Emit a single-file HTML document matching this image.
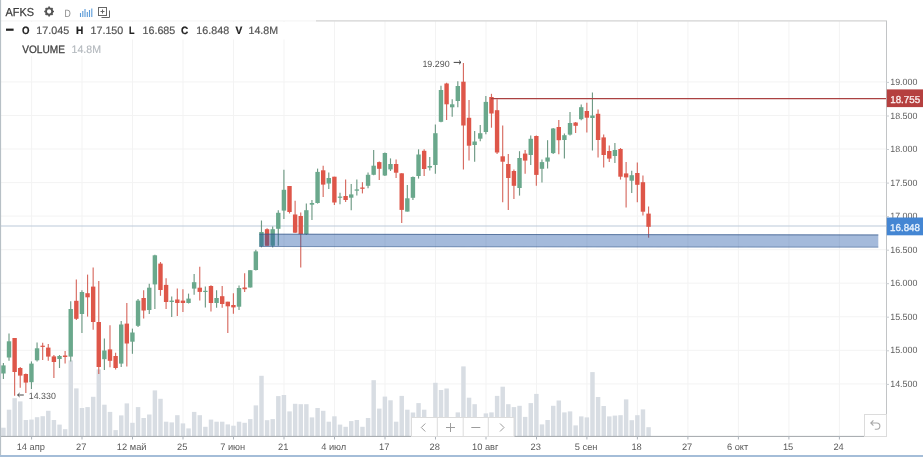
<!DOCTYPE html>
<html lang="ru"><head><meta charset="utf-8"><title>AFKS</title>
<style>html,body{margin:0;padding:0;background:#fff;}body{width:923px;height:457px;overflow:hidden;font-family:"Liberation Sans",sans-serif;}svg{display:block;font-family:"Liberation Sans",sans-serif;}</style></head><body>
<svg width="923" height="457" viewBox="0 0 923 457" text-rendering="geometricPrecision">
<rect width="923" height="457" fill="#fff"/>
<g stroke="#f3f3f3" stroke-width="1">
<line x1="31.6" y1="21" x2="31.6" y2="436"/>
<line x1="82.0" y1="21" x2="82.0" y2="436"/>
<line x1="132.5" y1="21" x2="132.5" y2="436"/>
<line x1="183.0" y1="21" x2="183.0" y2="436"/>
<line x1="233.5" y1="21" x2="233.5" y2="436"/>
<line x1="284.0" y1="21" x2="284.0" y2="436"/>
<line x1="334.5" y1="21" x2="334.5" y2="436"/>
<line x1="385.0" y1="21" x2="385.0" y2="436"/>
<line x1="435.5" y1="21" x2="435.5" y2="436"/>
<line x1="486.0" y1="21" x2="486.0" y2="436"/>
<line x1="536.5" y1="21" x2="536.5" y2="436"/>
<line x1="586.9" y1="21" x2="586.9" y2="436"/>
<line x1="637.4" y1="21" x2="637.4" y2="436"/>
<line x1="687.9" y1="21" x2="687.9" y2="436"/>
<line x1="738.4" y1="21" x2="738.4" y2="436"/>
<line x1="788.9" y1="21" x2="788.9" y2="436"/>
<line x1="839.4" y1="21" x2="839.4" y2="436"/>
<line x1="1" y1="81.9" x2="886" y2="81.9"/>
<line x1="1" y1="115.5" x2="886" y2="115.5"/>
<line x1="1" y1="149.0" x2="886" y2="149.0"/>
<line x1="1" y1="182.6" x2="886" y2="182.6"/>
<line x1="1" y1="216.1" x2="886" y2="216.1"/>
<line x1="1" y1="249.7" x2="886" y2="249.7"/>
<line x1="1" y1="283.2" x2="886" y2="283.2"/>
<line x1="1" y1="316.8" x2="886" y2="316.8"/>
<line x1="1" y1="350.3" x2="886" y2="350.3"/>
<line x1="1" y1="383.9" x2="886" y2="383.9"/>
</g>
<line x1="0" y1="20.9" x2="887" y2="20.9" stroke="#f3f3f3" stroke-width="1"/>
<line x1="316" y1="20.9" x2="887" y2="20.9" stroke="#d6d6d6" stroke-width="1.1"/>
<g fill="#d8dde3">
<rect x="1.20" y="427.7" width="4.45" height="8.7"/>
<rect x="6.81" y="409.7" width="4.45" height="26.7"/>
<rect x="12.42" y="398.2" width="4.45" height="38.2"/>
<rect x="18.03" y="401.4" width="4.45" height="35.0"/>
<rect x="23.64" y="420.0" width="4.45" height="16.4"/>
<rect x="29.25" y="419.6" width="4.45" height="16.8"/>
<rect x="34.86" y="417.2" width="4.45" height="19.2"/>
<rect x="40.47" y="416.2" width="4.45" height="20.2"/>
<rect x="46.08" y="410.8" width="4.45" height="25.6"/>
<rect x="51.69" y="420.0" width="4.45" height="16.4"/>
<rect x="57.30" y="424.6" width="4.45" height="11.8"/>
<rect x="62.91" y="429.2" width="4.45" height="7.2"/>
<rect x="68.52" y="360.4" width="4.45" height="76.0"/>
<rect x="74.13" y="388.4" width="4.45" height="48.0"/>
<rect x="79.74" y="408.0" width="4.45" height="28.4"/>
<rect x="85.35" y="407.1" width="4.45" height="29.3"/>
<rect x="90.96" y="396.8" width="4.45" height="39.6"/>
<rect x="96.57" y="369.4" width="4.45" height="67.0"/>
<rect x="102.18" y="404.7" width="4.45" height="31.7"/>
<rect x="107.79" y="411.9" width="4.45" height="24.5"/>
<rect x="113.40" y="430.1" width="4.45" height="6.3"/>
<rect x="119.01" y="415.4" width="4.45" height="21.0"/>
<rect x="124.62" y="403.4" width="4.45" height="33.0"/>
<rect x="130.23" y="422.8" width="4.45" height="13.6"/>
<rect x="135.84" y="407.1" width="4.45" height="29.3"/>
<rect x="141.45" y="418.0" width="4.45" height="18.4"/>
<rect x="147.06" y="414.5" width="4.45" height="21.9"/>
<rect x="152.67" y="390.4" width="4.45" height="46.0"/>
<rect x="158.28" y="398.8" width="4.45" height="37.6"/>
<rect x="163.89" y="421.7" width="4.45" height="14.7"/>
<rect x="169.50" y="422.4" width="4.45" height="14.0"/>
<rect x="175.11" y="415.2" width="4.45" height="21.2"/>
<rect x="180.72" y="423.4" width="4.45" height="13.0"/>
<rect x="186.33" y="428.4" width="4.45" height="8.0"/>
<rect x="191.94" y="411.9" width="4.45" height="24.5"/>
<rect x="197.55" y="415.2" width="4.45" height="21.2"/>
<rect x="203.16" y="426.8" width="4.45" height="9.6"/>
<rect x="208.77" y="419.6" width="4.45" height="16.8"/>
<rect x="214.38" y="421.7" width="4.45" height="14.7"/>
<rect x="219.99" y="421.7" width="4.45" height="14.7"/>
<rect x="225.60" y="424.4" width="4.45" height="12.0"/>
<rect x="231.21" y="425.7" width="4.45" height="10.7"/>
<rect x="236.82" y="421.7" width="4.45" height="14.7"/>
<rect x="242.43" y="422.8" width="4.45" height="13.6"/>
<rect x="248.04" y="419.1" width="4.45" height="17.3"/>
<rect x="253.65" y="405.4" width="4.45" height="31.0"/>
<rect x="259.26" y="375.8" width="4.45" height="60.6"/>
<rect x="264.87" y="420.2" width="4.45" height="16.2"/>
<rect x="270.48" y="419.1" width="4.45" height="17.3"/>
<rect x="276.09" y="396.1" width="4.45" height="40.3"/>
<rect x="281.70" y="395.0" width="4.45" height="41.4"/>
<rect x="287.31" y="411.4" width="4.45" height="25.0"/>
<rect x="292.92" y="403.8" width="4.45" height="32.6"/>
<rect x="298.53" y="404.2" width="4.45" height="32.2"/>
<rect x="304.14" y="404.2" width="4.45" height="32.2"/>
<rect x="309.75" y="417.4" width="4.45" height="19.0"/>
<rect x="315.36" y="408.0" width="4.45" height="28.4"/>
<rect x="320.97" y="410.8" width="4.45" height="25.6"/>
<rect x="326.58" y="421.7" width="4.45" height="14.7"/>
<rect x="332.19" y="416.3" width="4.45" height="20.1"/>
<rect x="337.80" y="424.6" width="4.45" height="11.8"/>
<rect x="343.41" y="426.8" width="4.45" height="9.6"/>
<rect x="349.02" y="421.1" width="4.45" height="15.3"/>
<rect x="354.63" y="420.0" width="4.45" height="16.4"/>
<rect x="360.24" y="426.8" width="4.45" height="9.6"/>
<rect x="365.85" y="418.0" width="4.45" height="18.4"/>
<rect x="371.46" y="380.2" width="4.45" height="56.2"/>
<rect x="377.07" y="408.6" width="4.45" height="27.8"/>
<rect x="382.68" y="396.6" width="4.45" height="39.8"/>
<rect x="388.29" y="400.3" width="4.45" height="36.1"/>
<rect x="393.90" y="421.7" width="4.45" height="14.7"/>
<rect x="399.51" y="395.9" width="4.45" height="40.5"/>
<rect x="405.12" y="409.7" width="4.45" height="26.7"/>
<rect x="410.73" y="412.5" width="4.45" height="23.9"/>
<rect x="416.34" y="403.1" width="4.45" height="33.3"/>
<rect x="421.95" y="409.7" width="4.45" height="26.7"/>
<rect x="427.56" y="421.4" width="4.45" height="15.0"/>
<rect x="433.17" y="382.8" width="4.45" height="53.6"/>
<rect x="438.78" y="390.0" width="4.45" height="46.4"/>
<rect x="444.39" y="388.5" width="4.45" height="47.9"/>
<rect x="450.00" y="421.4" width="4.45" height="15.0"/>
<rect x="455.61" y="412.4" width="4.45" height="24.0"/>
<rect x="461.22" y="366.4" width="4.45" height="70.0"/>
<rect x="466.83" y="397.7" width="4.45" height="38.7"/>
<rect x="472.44" y="404.2" width="4.45" height="32.2"/>
<rect x="478.05" y="421.4" width="4.45" height="15.0"/>
<rect x="483.66" y="413.4" width="4.45" height="23.0"/>
<rect x="489.27" y="412.4" width="4.45" height="24.0"/>
<rect x="494.88" y="395.9" width="4.45" height="40.5"/>
<rect x="500.49" y="386.7" width="4.45" height="49.7"/>
<rect x="506.10" y="404.2" width="4.45" height="32.2"/>
<rect x="511.71" y="407.1" width="4.45" height="29.3"/>
<rect x="517.32" y="405.8" width="4.45" height="30.6"/>
<rect x="522.93" y="416.9" width="4.45" height="19.5"/>
<rect x="528.54" y="403.1" width="4.45" height="33.3"/>
<rect x="534.15" y="393.9" width="4.45" height="42.5"/>
<rect x="539.76" y="424.4" width="4.45" height="12.0"/>
<rect x="545.37" y="420.0" width="4.45" height="16.4"/>
<rect x="550.98" y="405.8" width="4.45" height="30.6"/>
<rect x="556.59" y="400.5" width="4.45" height="35.9"/>
<rect x="562.20" y="412.4" width="4.45" height="24.0"/>
<rect x="567.81" y="411.4" width="4.45" height="25.0"/>
<rect x="573.42" y="425.4" width="4.45" height="11.0"/>
<rect x="579.03" y="416.4" width="4.45" height="20.0"/>
<rect x="584.64" y="417.4" width="4.45" height="19.0"/>
<rect x="590.25" y="372.1" width="4.45" height="64.3"/>
<rect x="595.86" y="397.0" width="4.45" height="39.4"/>
<rect x="601.47" y="406.0" width="4.45" height="30.4"/>
<rect x="607.08" y="416.4" width="4.45" height="20.0"/>
<rect x="612.69" y="415.6" width="4.45" height="20.8"/>
<rect x="618.30" y="415.2" width="4.45" height="21.2"/>
<rect x="623.91" y="399.4" width="4.45" height="37.0"/>
<rect x="629.52" y="420.2" width="4.45" height="16.2"/>
<rect x="635.13" y="415.2" width="4.45" height="21.2"/>
<rect x="640.74" y="409.4" width="4.45" height="27.0"/>
<rect x="646.35" y="427.2" width="4.45" height="9.2"/>
</g>
<line x1="0" y1="226" x2="886" y2="226" stroke="#bccada" stroke-width="1.15"/>
<line x1="3.40" y1="363.0" x2="3.40" y2="379.0" stroke="#5f8f78" stroke-width="1.15" stroke-opacity="0.9"/>
<rect x="1.20" y="365.4" width="4.4" height="8.1" fill="#6aa88c"/>
<line x1="9.01" y1="333.6" x2="9.01" y2="360.8" stroke="#5f8f78" stroke-width="1.15" stroke-opacity="0.9"/>
<rect x="6.81" y="341.3" width="4.4" height="16.2" fill="#6aa88c"/>
<line x1="14.62" y1="338.0" x2="14.62" y2="395.8" stroke="#d2574b" stroke-width="1.15" stroke-opacity="0.88"/>
<rect x="12.42" y="338.0" width="4.4" height="34.0" fill="#de5649"/>
<line x1="20.23" y1="367.0" x2="20.23" y2="387.7" stroke="#d2574b" stroke-width="1.15" stroke-opacity="0.88"/>
<rect x="18.03" y="368.0" width="4.4" height="7.6" fill="#de5649"/>
<line x1="25.84" y1="373.5" x2="25.84" y2="393.0" stroke="#d2574b" stroke-width="1.15" stroke-opacity="0.88"/>
<rect x="23.64" y="374.0" width="4.4" height="8.6" fill="#de5649"/>
<line x1="31.45" y1="361.4" x2="31.45" y2="389.0" stroke="#5f8f78" stroke-width="1.15" stroke-opacity="0.9"/>
<rect x="29.25" y="363.6" width="4.4" height="18.6" fill="#6aa88c"/>
<line x1="37.06" y1="342.4" x2="37.06" y2="361.4" stroke="#5f8f78" stroke-width="1.15" stroke-opacity="0.9"/>
<rect x="34.86" y="348.3" width="4.4" height="12.0" fill="#6aa88c"/>
<line x1="42.67" y1="342.8" x2="42.67" y2="360.0" stroke="#d2574b" stroke-width="1.15" stroke-opacity="0.88"/>
<rect x="40.47" y="345.7" width="4.4" height="1.2" fill="#de5649"/>
<line x1="48.28" y1="344.0" x2="48.28" y2="360.8" stroke="#d2574b" stroke-width="1.15" stroke-opacity="0.88"/>
<rect x="46.08" y="347.6" width="4.4" height="9.0" fill="#de5649"/>
<line x1="53.89" y1="355.0" x2="53.89" y2="378.0" stroke="#d2574b" stroke-width="1.15" stroke-opacity="0.88"/>
<rect x="51.69" y="356.4" width="4.4" height="5.6" fill="#de5649"/>
<line x1="59.50" y1="355.0" x2="59.50" y2="368.0" stroke="#5f8f78" stroke-width="1.15" stroke-opacity="0.9"/>
<rect x="57.30" y="356.0" width="4.4" height="3.0" fill="#6aa88c"/>
<line x1="65.11" y1="351.0" x2="65.11" y2="363.6" stroke="#d2574b" stroke-width="1.15" stroke-opacity="0.88"/>
<rect x="62.91" y="355.5" width="4.4" height="1.5" fill="#de5649"/>
<line x1="70.72" y1="301.3" x2="70.72" y2="361.4" stroke="#5f8f78" stroke-width="1.15" stroke-opacity="0.9"/>
<rect x="68.52" y="309.0" width="4.4" height="47.6" fill="#6aa88c"/>
<line x1="76.33" y1="279.4" x2="76.33" y2="320.0" stroke="#d2574b" stroke-width="1.15" stroke-opacity="0.88"/>
<rect x="74.13" y="300.8" width="4.4" height="18.0" fill="#de5649"/>
<line x1="81.94" y1="290.3" x2="81.94" y2="333.0" stroke="#5f8f78" stroke-width="1.15" stroke-opacity="0.9"/>
<rect x="79.74" y="292.0" width="4.4" height="22.0" fill="#6aa88c"/>
<line x1="87.55" y1="274.6" x2="87.55" y2="316.6" stroke="#d2574b" stroke-width="1.15" stroke-opacity="0.88"/>
<rect x="85.35" y="293.2" width="4.4" height="4.1" fill="#de5649"/>
<line x1="93.16" y1="267.4" x2="93.16" y2="329.7" stroke="#d2574b" stroke-width="1.15" stroke-opacity="0.88"/>
<rect x="90.96" y="286.6" width="4.4" height="35.4" fill="#de5649"/>
<line x1="98.77" y1="281.0" x2="98.77" y2="374.0" stroke="#d2574b" stroke-width="1.15" stroke-opacity="0.88"/>
<rect x="96.57" y="322.0" width="4.4" height="45.0" fill="#de5649"/>
<line x1="104.38" y1="338.5" x2="104.38" y2="370.0" stroke="#5f8f78" stroke-width="1.15" stroke-opacity="0.9"/>
<rect x="102.18" y="350.5" width="4.4" height="8.7" fill="#6aa88c"/>
<line x1="109.99" y1="325.3" x2="109.99" y2="367.3" stroke="#d2574b" stroke-width="1.15" stroke-opacity="0.88"/>
<rect x="107.79" y="349.4" width="4.4" height="11.4" fill="#de5649"/>
<line x1="115.60" y1="352.7" x2="115.60" y2="369.5" stroke="#d2574b" stroke-width="1.15" stroke-opacity="0.88"/>
<rect x="113.40" y="356.0" width="4.4" height="12.0" fill="#de5649"/>
<line x1="121.21" y1="321.0" x2="121.21" y2="367.0" stroke="#5f8f78" stroke-width="1.15" stroke-opacity="0.9"/>
<rect x="119.01" y="324.5" width="4.4" height="39.1" fill="#6aa88c"/>
<line x1="126.82" y1="303.0" x2="126.82" y2="366.5" stroke="#d2574b" stroke-width="1.15" stroke-opacity="0.88"/>
<rect x="124.62" y="323.6" width="4.4" height="19.9" fill="#de5649"/>
<line x1="132.43" y1="328.6" x2="132.43" y2="353.8" stroke="#5f8f78" stroke-width="1.15" stroke-opacity="0.9"/>
<rect x="130.23" y="332.5" width="4.4" height="9.2" fill="#6aa88c"/>
<line x1="138.04" y1="299.0" x2="138.04" y2="327.0" stroke="#5f8f78" stroke-width="1.15" stroke-opacity="0.9"/>
<rect x="135.84" y="300.6" width="4.4" height="25.2" fill="#6aa88c"/>
<line x1="143.65" y1="290.3" x2="143.65" y2="318.5" stroke="#d2574b" stroke-width="1.15" stroke-opacity="0.88"/>
<rect x="141.45" y="298.0" width="4.4" height="12.5" fill="#de5649"/>
<line x1="149.26" y1="283.8" x2="149.26" y2="314.0" stroke="#5f8f78" stroke-width="1.15" stroke-opacity="0.9"/>
<rect x="147.06" y="287.7" width="4.4" height="22.3" fill="#6aa88c"/>
<line x1="154.87" y1="254.7" x2="154.87" y2="309.0" stroke="#5f8f78" stroke-width="1.15" stroke-opacity="0.9"/>
<rect x="152.67" y="255.3" width="4.4" height="29.1" fill="#6aa88c"/>
<line x1="160.48" y1="262.0" x2="160.48" y2="295.8" stroke="#d2574b" stroke-width="1.15" stroke-opacity="0.88"/>
<rect x="158.28" y="263.6" width="4.4" height="26.4" fill="#de5649"/>
<line x1="166.09" y1="278.3" x2="166.09" y2="309.0" stroke="#d2574b" stroke-width="1.15" stroke-opacity="0.88"/>
<rect x="163.89" y="284.9" width="4.4" height="17.1" fill="#de5649"/>
<line x1="171.70" y1="296.5" x2="171.70" y2="317.0" stroke="#5f8f78" stroke-width="1.15" stroke-opacity="0.9"/>
<rect x="169.50" y="300.6" width="4.4" height="1.4" fill="#6aa88c"/>
<line x1="177.31" y1="288.6" x2="177.31" y2="316.0" stroke="#d2574b" stroke-width="1.15" stroke-opacity="0.88"/>
<rect x="175.11" y="299.5" width="4.4" height="3.5" fill="#de5649"/>
<line x1="182.92" y1="289.2" x2="182.92" y2="312.0" stroke="#d2574b" stroke-width="1.15" stroke-opacity="0.88"/>
<rect x="180.72" y="300.6" width="4.4" height="2.4" fill="#de5649"/>
<line x1="188.53" y1="293.6" x2="188.53" y2="303.5" stroke="#5f8f78" stroke-width="1.15" stroke-opacity="0.9"/>
<rect x="186.33" y="298.6" width="4.4" height="4.4" fill="#6aa88c"/>
<line x1="194.14" y1="274.0" x2="194.14" y2="294.7" stroke="#5f8f78" stroke-width="1.15" stroke-opacity="0.9"/>
<rect x="191.94" y="282.2" width="4.4" height="6.4" fill="#6aa88c"/>
<line x1="199.75" y1="266.7" x2="199.75" y2="300.6" stroke="#d2574b" stroke-width="1.15" stroke-opacity="0.88"/>
<rect x="197.55" y="287.7" width="4.4" height="4.2" fill="#de5649"/>
<line x1="205.36" y1="286.4" x2="205.36" y2="307.4" stroke="#5f8f78" stroke-width="1.15" stroke-opacity="0.9"/>
<rect x="203.16" y="290.8" width="4.4" height="1.2" fill="#6aa88c"/>
<line x1="210.97" y1="285.3" x2="210.97" y2="311.6" stroke="#d2574b" stroke-width="1.15" stroke-opacity="0.88"/>
<rect x="208.77" y="286.0" width="4.4" height="17.0" fill="#de5649"/>
<line x1="216.58" y1="290.3" x2="216.58" y2="307.8" stroke="#5f8f78" stroke-width="1.15" stroke-opacity="0.9"/>
<rect x="214.38" y="298.0" width="4.4" height="5.0" fill="#6aa88c"/>
<line x1="222.19" y1="286.0" x2="222.19" y2="307.8" stroke="#d2574b" stroke-width="1.15" stroke-opacity="0.88"/>
<rect x="219.99" y="296.2" width="4.4" height="7.8" fill="#de5649"/>
<line x1="227.80" y1="301.7" x2="227.80" y2="333.0" stroke="#d2574b" stroke-width="1.15" stroke-opacity="0.88"/>
<rect x="225.60" y="301.7" width="4.4" height="4.6" fill="#de5649"/>
<line x1="233.41" y1="293.2" x2="233.41" y2="313.7" stroke="#d2574b" stroke-width="1.15" stroke-opacity="0.88"/>
<rect x="231.21" y="305.0" width="4.4" height="2.4" fill="#de5649"/>
<line x1="239.02" y1="285.5" x2="239.02" y2="310.0" stroke="#5f8f78" stroke-width="1.15" stroke-opacity="0.9"/>
<rect x="236.82" y="288.0" width="4.4" height="18.7" fill="#6aa88c"/>
<line x1="244.63" y1="273.3" x2="244.63" y2="292.0" stroke="#d2574b" stroke-width="1.15" stroke-opacity="0.88"/>
<rect x="242.43" y="287.5" width="4.4" height="1.7" fill="#de5649"/>
<line x1="250.24" y1="270.2" x2="250.24" y2="287.5" stroke="#5f8f78" stroke-width="1.15" stroke-opacity="0.9"/>
<rect x="248.04" y="270.2" width="4.4" height="17.3" fill="#6aa88c"/>
<line x1="255.85" y1="249.8" x2="255.85" y2="270.6" stroke="#5f8f78" stroke-width="1.15" stroke-opacity="0.9"/>
<rect x="253.65" y="251.4" width="4.4" height="18.6" fill="#6aa88c"/>
<line x1="261.46" y1="220.5" x2="261.46" y2="247.4" stroke="#5f8f78" stroke-width="1.15" stroke-opacity="0.9"/>
<rect x="259.26" y="232.0" width="4.4" height="14.3" fill="#6aa88c"/>
<line x1="267.07" y1="228.3" x2="267.07" y2="245.8" stroke="#d2574b" stroke-width="1.15" stroke-opacity="0.88"/>
<rect x="264.87" y="229.2" width="4.4" height="16.6" fill="#de5649"/>
<line x1="272.68" y1="226.6" x2="272.68" y2="247.4" stroke="#5f8f78" stroke-width="1.15" stroke-opacity="0.9"/>
<rect x="270.48" y="229.2" width="4.4" height="16.6" fill="#6aa88c"/>
<line x1="278.29" y1="210.2" x2="278.29" y2="245.8" stroke="#5f8f78" stroke-width="1.15" stroke-opacity="0.9"/>
<rect x="276.09" y="212.8" width="4.4" height="16.0" fill="#6aa88c"/>
<line x1="283.90" y1="169.7" x2="283.90" y2="219.0" stroke="#5f8f78" stroke-width="1.15" stroke-opacity="0.9"/>
<rect x="281.70" y="189.8" width="4.4" height="20.8" fill="#6aa88c"/>
<line x1="289.51" y1="186.0" x2="289.51" y2="213.5" stroke="#d2574b" stroke-width="1.15" stroke-opacity="0.88"/>
<rect x="287.31" y="186.0" width="4.4" height="26.0" fill="#de5649"/>
<line x1="295.12" y1="200.8" x2="295.12" y2="233.0" stroke="#d2574b" stroke-width="1.15" stroke-opacity="0.88"/>
<rect x="292.92" y="214.5" width="4.4" height="18.2" fill="#de5649"/>
<line x1="300.73" y1="212.4" x2="300.73" y2="267.4" stroke="#d2574b" stroke-width="1.15" stroke-opacity="0.88"/>
<rect x="298.53" y="216.0" width="4.4" height="18.2" fill="#de5649"/>
<line x1="306.34" y1="203.6" x2="306.34" y2="235.0" stroke="#5f8f78" stroke-width="1.15" stroke-opacity="0.9"/>
<rect x="304.14" y="210.2" width="4.4" height="24.0" fill="#6aa88c"/>
<line x1="311.95" y1="200.0" x2="311.95" y2="220.0" stroke="#5f8f78" stroke-width="1.15" stroke-opacity="0.9"/>
<rect x="309.75" y="203.0" width="4.4" height="1.7" fill="#6aa88c"/>
<line x1="317.56" y1="168.6" x2="317.56" y2="203.6" stroke="#5f8f78" stroke-width="1.15" stroke-opacity="0.9"/>
<rect x="315.36" y="171.9" width="4.4" height="31.1" fill="#6aa88c"/>
<line x1="323.17" y1="165.8" x2="323.17" y2="197.0" stroke="#d2574b" stroke-width="1.15" stroke-opacity="0.88"/>
<rect x="320.97" y="170.3" width="4.4" height="14.3" fill="#de5649"/>
<line x1="328.78" y1="172.5" x2="328.78" y2="189.0" stroke="#5f8f78" stroke-width="1.15" stroke-opacity="0.9"/>
<rect x="326.58" y="178.0" width="4.4" height="5.5" fill="#6aa88c"/>
<line x1="334.39" y1="176.7" x2="334.39" y2="205.0" stroke="#d2574b" stroke-width="1.15" stroke-opacity="0.88"/>
<rect x="332.19" y="176.7" width="4.4" height="25.8" fill="#de5649"/>
<line x1="340.00" y1="192.7" x2="340.00" y2="204.3" stroke="#5f8f78" stroke-width="1.15" stroke-opacity="0.9"/>
<rect x="337.80" y="196.6" width="4.4" height="1.2" fill="#6aa88c"/>
<line x1="345.61" y1="179.5" x2="345.61" y2="202.0" stroke="#d2574b" stroke-width="1.15" stroke-opacity="0.88"/>
<rect x="343.41" y="196.0" width="4.4" height="4.0" fill="#de5649"/>
<line x1="351.22" y1="184.0" x2="351.22" y2="210.2" stroke="#5f8f78" stroke-width="1.15" stroke-opacity="0.9"/>
<rect x="349.02" y="194.4" width="4.4" height="3.3" fill="#6aa88c"/>
<line x1="356.83" y1="179.5" x2="356.83" y2="195.5" stroke="#5f8f78" stroke-width="1.15" stroke-opacity="0.9"/>
<rect x="354.63" y="189.4" width="4.4" height="1.3" fill="#6aa88c"/>
<line x1="362.44" y1="182.2" x2="362.44" y2="193.4" stroke="#d2574b" stroke-width="1.15" stroke-opacity="0.88"/>
<rect x="360.24" y="187.5" width="4.4" height="1.3" fill="#de5649"/>
<line x1="368.05" y1="172.6" x2="368.05" y2="188.2" stroke="#5f8f78" stroke-width="1.15" stroke-opacity="0.9"/>
<rect x="365.85" y="174.8" width="4.4" height="11.0" fill="#6aa88c"/>
<line x1="373.66" y1="150.0" x2="373.66" y2="175.2" stroke="#5f8f78" stroke-width="1.15" stroke-opacity="0.9"/>
<rect x="371.46" y="165.7" width="4.4" height="9.1" fill="#6aa88c"/>
<line x1="379.27" y1="161.5" x2="379.27" y2="180.0" stroke="#d2574b" stroke-width="1.15" stroke-opacity="0.88"/>
<rect x="377.07" y="162.1" width="4.4" height="6.7" fill="#de5649"/>
<line x1="384.88" y1="152.5" x2="384.88" y2="176.0" stroke="#5f8f78" stroke-width="1.15" stroke-opacity="0.9"/>
<rect x="382.68" y="153.0" width="4.4" height="22.5" fill="#6aa88c"/>
<line x1="390.49" y1="158.4" x2="390.49" y2="171.0" stroke="#5f8f78" stroke-width="1.15" stroke-opacity="0.9"/>
<rect x="388.29" y="164.0" width="4.4" height="5.4" fill="#6aa88c"/>
<line x1="396.10" y1="159.5" x2="396.10" y2="178.0" stroke="#d2574b" stroke-width="1.15" stroke-opacity="0.88"/>
<rect x="393.90" y="164.0" width="4.4" height="8.7" fill="#de5649"/>
<line x1="401.71" y1="173.3" x2="401.71" y2="223.0" stroke="#d2574b" stroke-width="1.15" stroke-opacity="0.88"/>
<rect x="399.51" y="173.3" width="4.4" height="36.6" fill="#de5649"/>
<line x1="407.32" y1="185.0" x2="407.32" y2="211.6" stroke="#5f8f78" stroke-width="1.15" stroke-opacity="0.9"/>
<rect x="405.12" y="198.3" width="4.4" height="13.3" fill="#6aa88c"/>
<line x1="412.93" y1="176.6" x2="412.93" y2="200.0" stroke="#5f8f78" stroke-width="1.15" stroke-opacity="0.9"/>
<rect x="410.73" y="177.0" width="4.4" height="20.8" fill="#6aa88c"/>
<line x1="418.54" y1="149.3" x2="418.54" y2="178.6" stroke="#5f8f78" stroke-width="1.15" stroke-opacity="0.9"/>
<rect x="416.34" y="154.5" width="4.4" height="21.5" fill="#6aa88c"/>
<line x1="424.15" y1="149.3" x2="424.15" y2="176.0" stroke="#d2574b" stroke-width="1.15" stroke-opacity="0.88"/>
<rect x="421.95" y="150.8" width="4.4" height="18.2" fill="#de5649"/>
<line x1="429.76" y1="157.0" x2="429.76" y2="170.5" stroke="#5f8f78" stroke-width="1.15" stroke-opacity="0.9"/>
<rect x="427.56" y="166.0" width="4.4" height="1.6" fill="#6aa88c"/>
<line x1="435.37" y1="124.4" x2="435.37" y2="173.8" stroke="#5f8f78" stroke-width="1.15" stroke-opacity="0.9"/>
<rect x="433.17" y="133.2" width="4.4" height="31.8" fill="#6aa88c"/>
<line x1="440.98" y1="85.7" x2="440.98" y2="122.2" stroke="#5f8f78" stroke-width="1.15" stroke-opacity="0.9"/>
<rect x="438.78" y="90.0" width="4.4" height="31.8" fill="#6aa88c"/>
<line x1="446.59" y1="82.8" x2="446.59" y2="120.0" stroke="#d2574b" stroke-width="1.15" stroke-opacity="0.88"/>
<rect x="444.39" y="83.5" width="4.4" height="20.8" fill="#de5649"/>
<line x1="452.20" y1="99.2" x2="452.20" y2="116.7" stroke="#5f8f78" stroke-width="1.15" stroke-opacity="0.9"/>
<rect x="450.00" y="104.3" width="4.4" height="3.0" fill="#6aa88c"/>
<line x1="457.81" y1="81.3" x2="457.81" y2="107.3" stroke="#5f8f78" stroke-width="1.15" stroke-opacity="0.9"/>
<rect x="455.61" y="86.0" width="4.4" height="15.0" fill="#6aa88c"/>
<line x1="463.42" y1="62.9" x2="463.42" y2="169.4" stroke="#d2574b" stroke-width="1.15" stroke-opacity="0.88"/>
<rect x="461.22" y="81.7" width="4.4" height="43.8" fill="#de5649"/>
<line x1="469.03" y1="100.0" x2="469.03" y2="160.6" stroke="#d2574b" stroke-width="1.15" stroke-opacity="0.88"/>
<rect x="466.83" y="117.8" width="4.4" height="27.9" fill="#de5649"/>
<line x1="474.64" y1="131.0" x2="474.64" y2="161.7" stroke="#5f8f78" stroke-width="1.15" stroke-opacity="0.9"/>
<rect x="472.44" y="141.5" width="4.4" height="3.5" fill="#6aa88c"/>
<line x1="480.25" y1="125.0" x2="480.25" y2="141.3" stroke="#5f8f78" stroke-width="1.15" stroke-opacity="0.9"/>
<rect x="478.05" y="133.2" width="4.4" height="5.5" fill="#6aa88c"/>
<line x1="485.86" y1="96.0" x2="485.86" y2="134.2" stroke="#5f8f78" stroke-width="1.15" stroke-opacity="0.9"/>
<rect x="483.66" y="101.9" width="4.4" height="30.1" fill="#6aa88c"/>
<line x1="491.47" y1="93.8" x2="491.47" y2="127.7" stroke="#d2574b" stroke-width="1.15" stroke-opacity="0.88"/>
<rect x="489.27" y="97.0" width="4.4" height="16.5" fill="#de5649"/>
<line x1="497.08" y1="99.2" x2="497.08" y2="154.0" stroke="#d2574b" stroke-width="1.15" stroke-opacity="0.88"/>
<rect x="494.88" y="110.2" width="4.4" height="42.3" fill="#de5649"/>
<line x1="502.69" y1="125.5" x2="502.69" y2="202.2" stroke="#d2574b" stroke-width="1.15" stroke-opacity="0.88"/>
<rect x="500.49" y="156.3" width="4.4" height="5.4" fill="#de5649"/>
<line x1="508.30" y1="154.0" x2="508.30" y2="210.0" stroke="#d2574b" stroke-width="1.15" stroke-opacity="0.88"/>
<rect x="506.10" y="164.0" width="4.4" height="14.0" fill="#de5649"/>
<line x1="513.91" y1="169.4" x2="513.91" y2="199.0" stroke="#d2574b" stroke-width="1.15" stroke-opacity="0.88"/>
<rect x="511.71" y="171.0" width="4.4" height="14.8" fill="#de5649"/>
<line x1="519.52" y1="151.2" x2="519.52" y2="195.6" stroke="#5f8f78" stroke-width="1.15" stroke-opacity="0.9"/>
<rect x="517.32" y="158.0" width="4.4" height="30.0" fill="#6aa88c"/>
<line x1="525.13" y1="150.0" x2="525.13" y2="173.8" stroke="#d2574b" stroke-width="1.15" stroke-opacity="0.88"/>
<rect x="522.93" y="153.6" width="4.4" height="7.0" fill="#de5649"/>
<line x1="530.74" y1="135.4" x2="530.74" y2="165.0" stroke="#5f8f78" stroke-width="1.15" stroke-opacity="0.9"/>
<rect x="528.54" y="138.8" width="4.4" height="16.2" fill="#6aa88c"/>
<line x1="536.35" y1="135.5" x2="536.35" y2="185.8" stroke="#d2574b" stroke-width="1.15" stroke-opacity="0.88"/>
<rect x="534.15" y="136.0" width="4.4" height="38.9" fill="#de5649"/>
<line x1="541.96" y1="159.4" x2="541.96" y2="182.5" stroke="#5f8f78" stroke-width="1.15" stroke-opacity="0.9"/>
<rect x="539.76" y="162.1" width="4.4" height="6.7" fill="#6aa88c"/>
<line x1="547.57" y1="140.2" x2="547.57" y2="168.5" stroke="#5f8f78" stroke-width="1.15" stroke-opacity="0.9"/>
<rect x="545.37" y="157.5" width="4.4" height="4.1" fill="#6aa88c"/>
<line x1="553.18" y1="128.0" x2="553.18" y2="153.9" stroke="#5f8f78" stroke-width="1.15" stroke-opacity="0.9"/>
<rect x="550.98" y="128.5" width="4.4" height="24.6" fill="#6aa88c"/>
<line x1="558.79" y1="120.0" x2="558.79" y2="154.2" stroke="#d2574b" stroke-width="1.15" stroke-opacity="0.88"/>
<rect x="556.59" y="127.0" width="4.4" height="13.2" fill="#de5649"/>
<line x1="564.40" y1="133.5" x2="564.40" y2="158.6" stroke="#5f8f78" stroke-width="1.15" stroke-opacity="0.9"/>
<rect x="562.20" y="135.2" width="4.4" height="4.8" fill="#6aa88c"/>
<line x1="570.01" y1="112.0" x2="570.01" y2="135.6" stroke="#5f8f78" stroke-width="1.15" stroke-opacity="0.9"/>
<rect x="567.81" y="123.0" width="4.4" height="11.6" fill="#6aa88c"/>
<line x1="575.62" y1="121.9" x2="575.62" y2="133.0" stroke="#d2574b" stroke-width="1.15" stroke-opacity="0.88"/>
<rect x="573.42" y="122.5" width="4.4" height="3.3" fill="#de5649"/>
<line x1="581.23" y1="104.6" x2="581.23" y2="120.3" stroke="#5f8f78" stroke-width="1.15" stroke-opacity="0.9"/>
<rect x="579.03" y="107.2" width="4.4" height="12.0" fill="#6aa88c"/>
<line x1="586.84" y1="102.8" x2="586.84" y2="132.4" stroke="#d2574b" stroke-width="1.15" stroke-opacity="0.88"/>
<rect x="584.64" y="111.0" width="4.4" height="6.7" fill="#de5649"/>
<line x1="592.45" y1="92.5" x2="592.45" y2="150.5" stroke="#5f8f78" stroke-width="1.15" stroke-opacity="0.9"/>
<rect x="590.25" y="115.5" width="4.4" height="2.5" fill="#6aa88c"/>
<line x1="598.06" y1="109.4" x2="598.06" y2="157.5" stroke="#d2574b" stroke-width="1.15" stroke-opacity="0.88"/>
<rect x="595.86" y="113.8" width="4.4" height="26.2" fill="#de5649"/>
<line x1="603.67" y1="134.5" x2="603.67" y2="167.4" stroke="#d2574b" stroke-width="1.15" stroke-opacity="0.88"/>
<rect x="601.47" y="137.4" width="4.4" height="17.6" fill="#de5649"/>
<line x1="609.28" y1="145.5" x2="609.28" y2="162.0" stroke="#d2574b" stroke-width="1.15" stroke-opacity="0.88"/>
<rect x="607.08" y="151.0" width="4.4" height="7.6" fill="#de5649"/>
<line x1="614.89" y1="143.0" x2="614.89" y2="163.0" stroke="#5f8f78" stroke-width="1.15" stroke-opacity="0.9"/>
<rect x="612.69" y="150.0" width="4.4" height="6.0" fill="#6aa88c"/>
<line x1="620.50" y1="148.0" x2="620.50" y2="179.6" stroke="#d2574b" stroke-width="1.15" stroke-opacity="0.88"/>
<rect x="618.30" y="149.0" width="4.4" height="27.7" fill="#de5649"/>
<line x1="626.11" y1="162.0" x2="626.11" y2="207.4" stroke="#d2574b" stroke-width="1.15" stroke-opacity="0.88"/>
<rect x="623.91" y="173.4" width="4.4" height="4.0" fill="#de5649"/>
<line x1="631.72" y1="170.8" x2="631.72" y2="193.0" stroke="#5f8f78" stroke-width="1.15" stroke-opacity="0.9"/>
<rect x="629.52" y="175.2" width="4.4" height="5.5" fill="#6aa88c"/>
<line x1="637.33" y1="162.5" x2="637.33" y2="202.3" stroke="#d2574b" stroke-width="1.15" stroke-opacity="0.88"/>
<rect x="635.13" y="173.0" width="4.4" height="11.8" fill="#de5649"/>
<line x1="642.94" y1="175.6" x2="642.94" y2="215.5" stroke="#d2574b" stroke-width="1.15" stroke-opacity="0.88"/>
<rect x="640.74" y="182.2" width="4.4" height="29.5" fill="#de5649"/>
<line x1="648.55" y1="206.5" x2="648.55" y2="237.7" stroke="#d2574b" stroke-width="1.15" stroke-opacity="0.88"/>
<rect x="646.35" y="213.6" width="4.4" height="13.2" fill="#de5649"/>
<line x1="491" y1="98.6" x2="886.5" y2="98.6" stroke="#ab4242" stroke-width="1.05"/>
<polygon points="259.3,233.7 878.3,234.5 878.3,247.5 259.3,246.9" fill="#1c52a6" fill-opacity="0.4"/>
<line x1="259.3" y1="234.2" x2="878.3" y2="235" stroke="#3a5a88" stroke-opacity="0.7" stroke-width="1"/>
<line x1="259.3" y1="246.5" x2="878.3" y2="247.1" stroke="#3a5a88" stroke-opacity="0.45" stroke-width="1"/>
<line x1="0" y1="436.4" x2="886.5" y2="436.4" stroke="#a2a6ab" stroke-width="1"/>
<line x1="886.5" y1="21" x2="886.5" y2="436.5" stroke="#c2c4c6" stroke-width="1"/>
<rect x="0" y="0" width="1.1" height="457" fill="#b7c0c6"/>
<rect x="0" y="455" width="923" height="2" fill="#a4bdd8"/>
<g stroke="#adb3ba" stroke-width="1">
<line x1="31.6" y1="436" x2="31.6" y2="439.5"/>
<line x1="82.0" y1="436" x2="82.0" y2="439.5"/>
<line x1="132.5" y1="436" x2="132.5" y2="439.5"/>
<line x1="183.0" y1="436" x2="183.0" y2="439.5"/>
<line x1="233.5" y1="436" x2="233.5" y2="439.5"/>
<line x1="284.0" y1="436" x2="284.0" y2="439.5"/>
<line x1="334.5" y1="436" x2="334.5" y2="439.5"/>
<line x1="385.0" y1="436" x2="385.0" y2="439.5"/>
<line x1="435.5" y1="436" x2="435.5" y2="439.5"/>
<line x1="486.0" y1="436" x2="486.0" y2="439.5"/>
<line x1="536.5" y1="436" x2="536.5" y2="439.5"/>
<line x1="586.9" y1="436" x2="586.9" y2="439.5"/>
<line x1="637.4" y1="436" x2="637.4" y2="439.5"/>
<line x1="687.9" y1="436" x2="687.9" y2="439.5"/>
<line x1="738.4" y1="436" x2="738.4" y2="439.5"/>
<line x1="788.9" y1="436" x2="788.9" y2="439.5"/>
<line x1="839.4" y1="436" x2="839.4" y2="439.5"/>
</g>
<g font-size="9.3" fill="#5a5a5a" text-anchor="middle">
<text x="30.8" y="449.6">14 апр</text>
<text x="81.2" y="449.6">27</text>
<text x="131.7" y="449.6">12 май</text>
<text x="182.2" y="449.6">25</text>
<text x="232.7" y="449.6">7 июн</text>
<text x="283.2" y="449.6">21</text>
<text x="333.7" y="449.6">4 июл</text>
<text x="384.2" y="449.6">17</text>
<text x="434.7" y="449.6">28</text>
<text x="485.2" y="449.6">10 авг</text>
<text x="535.7" y="449.6">23</text>
<text x="586.1" y="449.6">5 сен</text>
<text x="636.6" y="449.6">18</text>
<text x="687.1" y="449.6">27</text>
<text x="737.6" y="449.6">6 окт</text>
<text x="788.1" y="449.6">15</text>
<text x="838.6" y="449.6">24</text>
</g>
<g stroke="#c8ccd0" stroke-width="1">
<line x1="886" y1="82.4" x2="889" y2="82.4"/>
<line x1="886" y1="116.0" x2="889" y2="116.0"/>
<line x1="886" y1="149.5" x2="889" y2="149.5"/>
<line x1="886" y1="183.1" x2="889" y2="183.1"/>
<line x1="886" y1="216.6" x2="889" y2="216.6"/>
<line x1="886" y1="250.2" x2="889" y2="250.2"/>
<line x1="886" y1="283.7" x2="889" y2="283.7"/>
<line x1="886" y1="317.2" x2="889" y2="317.2"/>
<line x1="886" y1="350.8" x2="889" y2="350.8"/>
<line x1="886" y1="384.4" x2="889" y2="384.4"/>
</g>
<g font-size="9" fill="#606060">
<text x="890.2" y="84.9" textLength="27.2" lengthAdjust="spacingAndGlyphs">19.000</text>
<text x="890.2" y="118.5" textLength="27.2" lengthAdjust="spacingAndGlyphs">18.500</text>
<text x="890.2" y="152.0" textLength="27.2" lengthAdjust="spacingAndGlyphs">18.000</text>
<text x="890.2" y="185.6" textLength="27.2" lengthAdjust="spacingAndGlyphs">17.500</text>
<text x="890.2" y="219.1" textLength="27.2" lengthAdjust="spacingAndGlyphs">17.000</text>
<text x="890.2" y="252.7" textLength="27.2" lengthAdjust="spacingAndGlyphs">16.500</text>
<text x="890.2" y="286.2" textLength="27.2" lengthAdjust="spacingAndGlyphs">16.000</text>
<text x="890.2" y="319.8" textLength="27.2" lengthAdjust="spacingAndGlyphs">15.500</text>
<text x="890.2" y="353.3" textLength="27.2" lengthAdjust="spacingAndGlyphs">15.000</text>
<text x="890.2" y="386.9" textLength="27.2" lengthAdjust="spacingAndGlyphs">14.500</text>
</g>
<rect x="886.8" y="89.4" width="36.2" height="17.7" fill="#b5403f"/>
<text x="890.2" y="103" font-size="10" fill="#fdf0f0" stroke="#fdf0f0" stroke-width="0.3" textLength="30" lengthAdjust="spacingAndGlyphs">18.755</text>
<rect x="886.8" y="217.5" width="36.2" height="17.8" fill="#4486d3"/>
<text x="890" y="231.1" font-size="10" fill="#e8f2fd" stroke="#e8f2fd" stroke-width="0.3" textLength="30" lengthAdjust="spacingAndGlyphs">16.848</text>
<g font-size="9" fill="#555">
<text x="422.4" y="66.5" textLength="27.3" lengthAdjust="spacingAndGlyphs">19.290</text>
<text x="28.8" y="399.2" textLength="27" lengthAdjust="spacingAndGlyphs">14.330</text>
</g>
<g stroke="#3a3a3a" stroke-width="0.95" fill="none">
<path d="M453.7 62.4H460.8M459 60.5L461 62.4L459 64.3"/>
<path d="M23.8 395H17.6M19.6 393.1L17.6 395L19.6 396.9"/>
</g>
<rect x="411.5" y="417.5" width="102.5" height="19" fill="#fff" stroke="#dcdcdc" stroke-width="1"/>
<g stroke="#dcdcdc" stroke-width="1"><line x1="437.3" y1="417.5" x2="437.3" y2="436"/><line x1="463.2" y1="417.5" x2="463.2" y2="436"/><line x1="488.3" y1="417.5" x2="488.3" y2="436"/></g>
<g stroke="#9c9c9c" stroke-width="1" fill="none">
<path d="M425.3 423.5L421.3 427.5L425.3 431.5"/>
<path d="M446 427.5H455M450.5 423V432"/>
<path d="M471.3 427.5H480.3"/>
<path d="M500 423.5L504 427.5L500 431.5"/>
</g>
<rect x="864.5" y="414.5" width="22" height="22" fill="#fff" stroke="#dcdcdc" stroke-width="1"/>
<path d="M871 423H876.8A3.1 3.1 0 0 1 876.8 429.2H874.8M873.4 420.4L870.8 423L873.4 425.6" stroke="#a8a8a8" stroke-width="1.1" fill="none"/>
<rect x="2" y="22" width="313" height="17.5" fill="#fff"/>
<rect x="2" y="39" width="104" height="17" fill="#fff"/>
<text x="5.6" y="16" font-size="11.5" fill="#3c3c3c" stroke="#3c3c3c" stroke-width="0.25" textLength="28.5" lengthAdjust="spacingAndGlyphs">AFKS</text>
<g transform="translate(49.1,11.5)"><circle r="3.1" fill="none" stroke="#555" stroke-width="1.9"/><g stroke="#555" stroke-width="1.7"><line x1="0" y1="-3.4" x2="0" y2="-4.9" transform="rotate(0)"/><line x1="0" y1="-3.4" x2="0" y2="-4.9" transform="rotate(45)"/><line x1="0" y1="-3.4" x2="0" y2="-4.9" transform="rotate(90)"/><line x1="0" y1="-3.4" x2="0" y2="-4.9" transform="rotate(135)"/><line x1="0" y1="-3.4" x2="0" y2="-4.9" transform="rotate(180)"/><line x1="0" y1="-3.4" x2="0" y2="-4.9" transform="rotate(225)"/><line x1="0" y1="-3.4" x2="0" y2="-4.9" transform="rotate(270)"/><line x1="0" y1="-3.4" x2="0" y2="-4.9" transform="rotate(315)"/></g></g>
<text x="64.6" y="16.6" font-size="10.5" fill="#888" textLength="6.3" lengthAdjust="spacingAndGlyphs">D</text>
<g stroke="#5b9bd8" stroke-width="1.1"><line x1="80.5" y1="13" x2="80.5" y2="17"/><line x1="82.8" y1="11" x2="82.8" y2="17"/><line x1="85" y1="9" x2="85" y2="17"/><line x1="87.3" y1="12" x2="87.3" y2="17"/><line x1="89.5" y1="10" x2="89.5" y2="17"/><line x1="91.8" y1="8.5" x2="91.8" y2="17"/></g>
<g stroke="#666" stroke-width="1" fill="none"><rect x="98.5" y="7.5" width="8" height="8" fill="#fff"/><path d="M109.5 10.5V17.5H101.5"/><path d="M102.5 9.5V13.5M100.5 11.5H104.5"/></g>
<rect x="6" y="28.6" width="7.6" height="2.2" fill="#222"/>
<text x="22" y="34" font-size="10.6" font-weight="bold" fill="#222" stroke="#222" stroke-width="0.2" textLength="7.5" lengthAdjust="spacingAndGlyphs">O</text>
<text x="36.2" y="34" font-size="10.6" fill="#555" stroke="#555" stroke-width="0.2" textLength="33" lengthAdjust="spacingAndGlyphs">17.045</text>
<text x="76" y="34" font-size="10.6" font-weight="bold" fill="#222" stroke="#222" stroke-width="0.2" textLength="7.3" lengthAdjust="spacingAndGlyphs">H</text>
<text x="90.5" y="34" font-size="10.6" fill="#555" stroke="#555" stroke-width="0.2" textLength="32.8" lengthAdjust="spacingAndGlyphs">17.150</text>
<text x="129" y="34" font-size="10.6" font-weight="bold" fill="#222" stroke="#222" stroke-width="0.2" textLength="5.5" lengthAdjust="spacingAndGlyphs">L</text>
<text x="142.5" y="34" font-size="10.6" fill="#555" stroke="#555" stroke-width="0.2" textLength="32.8" lengthAdjust="spacingAndGlyphs">16.685</text>
<text x="181" y="34" font-size="10.6" font-weight="bold" fill="#222" stroke="#222" stroke-width="0.2" textLength="7.3" lengthAdjust="spacingAndGlyphs">C</text>
<text x="196.3" y="34" font-size="10.6" fill="#555" stroke="#555" stroke-width="0.2" textLength="32.8" lengthAdjust="spacingAndGlyphs">16.848</text>
<text x="235.5" y="34" font-size="10.6" font-weight="bold" fill="#222" stroke="#222" stroke-width="0.2" textLength="6.8" lengthAdjust="spacingAndGlyphs">V</text>
<text x="248.5" y="34" font-size="10.6" fill="#555" stroke="#555" stroke-width="0.2" textLength="29.5" lengthAdjust="spacingAndGlyphs">14.8M</text>
<text x="22.3" y="52.5" font-size="10.8" fill="#444" stroke="#444" stroke-width="0.3" textLength="42.6" lengthAdjust="spacingAndGlyphs">VOLUME</text>
<text x="71.6" y="52.5" font-size="10.8" fill="#b4b9be" stroke="#b4b9be" stroke-width="0.15" textLength="29.4" lengthAdjust="spacingAndGlyphs">14.8M</text>
</svg></body></html>
